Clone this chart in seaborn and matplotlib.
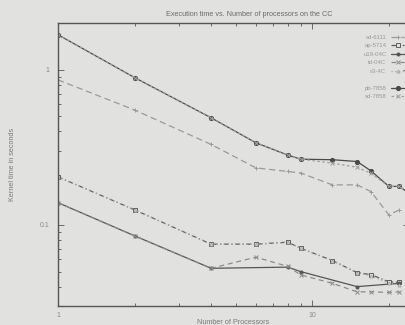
import numpy as np
import pandas as pd
import matplotlib
matplotlib.use("Agg")
import matplotlib.pyplot as plt
import seaborn as sns
from matplotlib.ticker import LogLocator, NullFormatter, FixedLocator, FixedFormatter

# processor counts
procs_a = [1, 2, 4, 6, 8, 9, 12, 15, 17, 20, 22, 24]
procs_b = [1, 2, 4, 6, 8, 9, 12, 15, 17, 20, 22]
procs_c = [1, 2, 4, 8, 9, 15, 22]

# kernel times (s)
t_pb7858 = [1.68, 0.89, 0.49, 0.338, 0.282, 0.265, 0.263, 0.256, 0.223, 0.177, 0.177, 0.16]
t_sd7858 = [1.68, 0.89, 0.49, 0.338, 0.282, 0.265, 0.25, 0.235, 0.215, 0.177, 0.177, 0.16]
t_sd6111 = [0.86, 0.55, 0.33, 0.233, 0.221, 0.216, 0.181, 0.181, 0.164, 0.116, 0.125]
t_ap5714 = [0.204, 0.125, 0.0751, 0.0751, 0.0773, 0.0707, 0.0589, 0.0492, 0.0478, 0.043, 0.0426]
t_u1904c = [0.139, 0.085, 0.0525, 0.0534, 0.050, 0.040, 0.042]
t_td04c = [0.139, 0.085, 0.0525, 0.0619, 0.054, 0.0476, 0.042, 0.037, 0.037, 0.0367, 0.037]
t_s34c = [0.204, 0.125, 0.0751, 0.0751, 0.0773, 0.0707, 0.0589, 0.049, 0.047, 0.042, 0.041]

labels = ["sd-6111", "ap-5714", "u19-04C", "td-04C", "s3-4C", "pb-7858", "sd-7858"]

series = [
    # label, x, y, color, dashes, marker, markersize, fill
    ("sd-6111", procs_b, t_sd6111, "#9a9a98", (5, 3), "+", 3, True),
    ("ap-5714", procs_b, t_ap5714, "#5e5e5c", (4, 2, 1, 2), "s", 3.2, False),
    ("u19-04C", procs_c, t_u1904c, "#555553", None, "o", 2.2, True),
    ("td-04C", procs_b, t_td04c, "#8c8c8a", (4, 3), "x", 2.5, True),
    ("s3-4C", procs_b, t_s34c, "#a8a8a6", (1, 2), "^", 2.2, False),
    ("pb-7858", procs_a, t_pb7858, "#4a4a48", None, "o", 3, True),
    ("sd-7858", procs_a, t_sd7858, "#a0a09e", (2, 2), "x", 2.2, True),
]

bg = "#e1e1df"
sns.set_theme(style="ticks", rc={"figure.facecolor": bg, "axes.facecolor": bg,
                                 "savefig.facecolor": bg})
plt.rcParams["font.family"] = ["Liberation Sans", "DejaVu Sans"]

fig = plt.figure(figsize=(4.06, 3.25), dpi=100)
# axes reach past the right edge: the scan cuts the chart off
ax = fig.add_axes([58 / 406, 1 - 306 / 325, 351 / 406, 283 / 325])

handles = []
for label, xs, ys, color, dashes, marker, ms, fill in series:
    df = pd.DataFrame({"procs": xs, "time": ys})
    sns.lineplot(data=df, x="procs", y="time", ax=ax, color=color, lw=0.9,
                 marker=marker, markersize=ms,
                 markerfacecolor=color if fill else bg,
                 markeredgecolor=color, markeredgewidth=0.7)
    line = ax.lines[-1]
    if dashes is not None:
        line.set_dashes(dashes)
    handles.append(line)

ax.set_xscale("log")
ax.set_yscale("log")
ax.set_xlim(1, 24)
ax.set_ylim(0.03, 2)

ax.xaxis.set_major_locator(FixedLocator([1, 10]))
ax.xaxis.set_major_formatter(FixedFormatter(["1", "10"]))
ax.xaxis.set_minor_locator(LogLocator(base=10, subs=np.arange(2, 10)))
ax.xaxis.set_minor_formatter(NullFormatter())
ax.yaxis.set_major_locator(FixedLocator([0.1, 1]))
ax.yaxis.set_major_formatter(FixedFormatter(["0.1", "1"]))
ax.yaxis.set_minor_locator(LogLocator(base=10, subs=np.arange(2, 10)))
ax.yaxis.set_minor_formatter(NullFormatter())

ax.tick_params(which="both", direction="in", top=True, right=True,
               colors="#6a6a68", labelcolor="#8a8a88", labelsize=5, width=0.7)
ax.tick_params(which="major", length=4)
ax.tick_params(axis="x", which="major", pad=4)
ax.tick_params(axis="y", which="major", pad=6)
ax.tick_params(which="minor", length=2)
for sp in ax.spines.values():
    sp.set_color("#555553")
    sp.set_linewidth(1.0)

ax.set_title("Execution time vs. Number of processors on the CC",
             fontsize=5.2, color="#6a6a68", pad=5, x=0.545)
ax.set_xlabel("Number of Processors", fontsize=5.2, color="#7a7a78", labelpad=0.5)
ax.set_ylabel("Kernel time in seconds", fontsize=5.2, color="#7a7a78", labelpad=17)

blank = plt.Line2D([], [], color="none")
leg_handles = handles[:5] + [blank] + handles[5:]
leg_labels = labels[:5] + [""] + labels[5:]
leg = ax.legend(leg_handles, leg_labels, loc="upper right", frameon=False,
                fontsize=4.3, markerfirst=False, handlelength=2.2,
                labelspacing=0.55, borderaxespad=0.4,
                bbox_to_anchor=(1.0, 0.975), labelcolor="#9a9a98")

plt.savefig("out.png", dpi=100)
